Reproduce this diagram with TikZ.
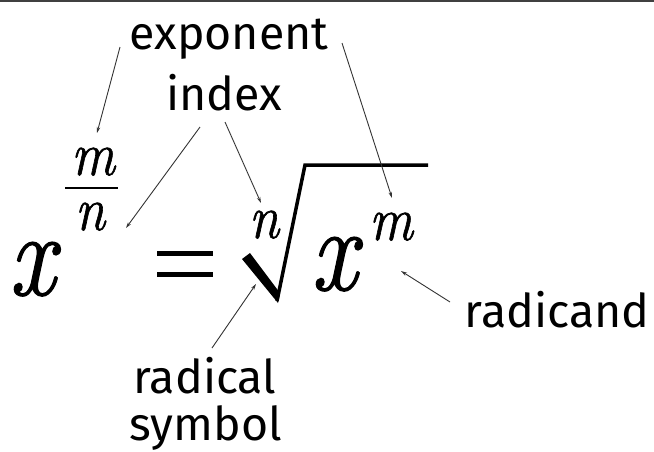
\documentclass[tikz,border=0pt]{standalone}
\usepackage{graphicx}
\usepackage{fontspec}
\setmainfont{Fira Sans}
\newfontfamily\lmr{Latin Modern Roman}[FakeBold=1.1]
\usetikzlibrary{arrows.meta}
\newcommand{\bigv}[1]{\scalebox{0.85}[1]{\lmr\itshape #1}}
\newcommand{\smallv}[1]{\scalebox{0.88}[1]{\lmr\itshape #1}}
\begin{document}
\begin{tikzpicture}[x=1pt,y=-1pt,
  lbl/.style={inner sep=0pt,anchor=base,font=\fontsize{46.5}{50}\selectfont},
  big/.style={inner sep=0pt,anchor=base,font=\fontsize{120}{124}\selectfont},
  small/.style={inner sep=0pt,anchor=base,font=\fontsize{62}{66}\selectfont},
  ptr/.style={draw=black!80,line width=0.9pt,-{Stealth[length=6pt,width=3.5pt]}}]
\useasboundingbox (0,0) rectangle (654,451);
\draw[line width=2pt,black!75] (0,1) -- (654,1);
% labels
\node[lbl] (exponent) at (229,49) {exponent};
\node[lbl] (index) at (224,110) {index};
\node[lbl] (radicand) at (557,327) {radicand};
\node[lbl] (radical) at (205,393) {radical};
\node[lbl] (symbol) at (206,440) {symbol};
% formula
\node[big] (x1) at (32,295) {\bigv{x}};
\node[small] (mf) at (93,175) {\smallv{m}};
\node[small] (nf) at (90,230) {\smallv{n}};
\draw[line width=2.5pt] (65,188) -- (118,188);
\node[big] (x2) at (334,290) {\bigv{x}};
\node[small] (nidx) at (264,238) {\smallv{n}};
\node[small] (msup) at (391,240) {\smallv{m}};
\fill (157,250.5) rectangle (213,255.5);
\fill (157,271.5) rectangle (213,276.5);
% radical sign
\fill (242,259) -- (250,253) -- (280,293) -- (278,303) -- cycle;
\draw[line width=3.5pt,line join=miter] (277,301) -- (305,165) -- (428,165);
% connectors
\coordinate (e1) at (120,47);
\coordinate (e1t) at (97,133);
\coordinate (e2) at (342,43);
\coordinate (e2t) at (392,198);
\coordinate (i1) at (200,127);
\coordinate (i1t) at (126,228);
\coordinate (i2) at (225,122);
\coordinate (i2t) at (261,203);
\coordinate (r1) at (212,348);
\coordinate (r1t) at (256,284);
\coordinate (d1) at (450,302);
\coordinate (d1t) at (401,271);
\draw[ptr] (e1) -- (e1t);
\draw[ptr] (e2) -- (e2t);
\draw[ptr] (i1) -- (i1t);
\draw[ptr] (i2) -- (i2t);
\draw[ptr] (r1) -- (r1t);
\draw[ptr] (d1) -- (d1t);
\end{tikzpicture}
\end{document}
